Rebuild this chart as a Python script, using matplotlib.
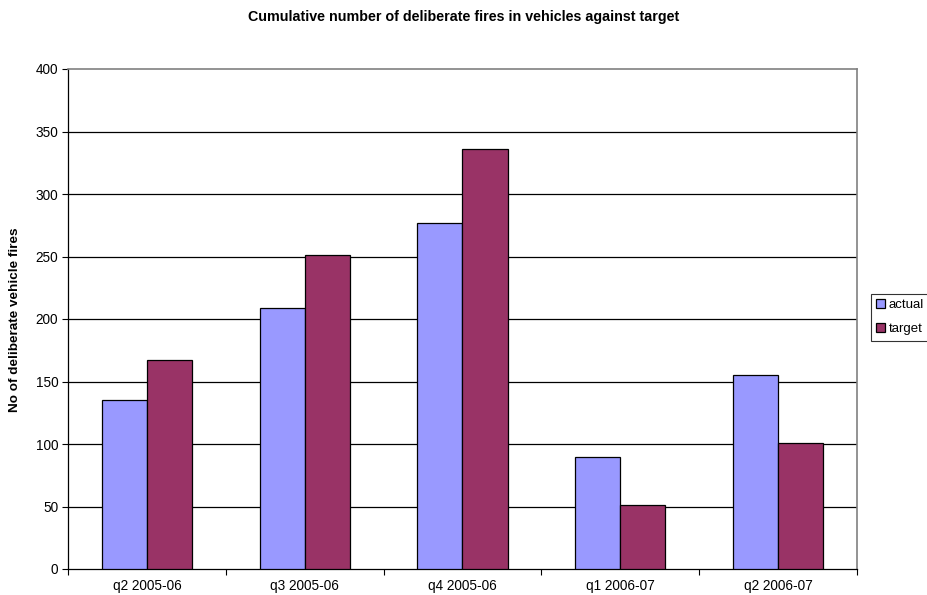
import matplotlib.pyplot as plt
import numpy as np

# quarterly data
quarters = ['q2 2005-06', 'q3 2005-06', 'q4 2005-06', 'q1 2006-07', 'q2 2006-07']
actual = [135, 209, 277, 90, 155]
target = [167, 251, 336, 51, 101]

plt.rcParams['font.family'] = ['Liberation Sans', 'DejaVu Sans']

fig = plt.figure(figsize=(9.28, 5.95), dpi=100)
ax = fig.add_axes([68/928, 1-569/595, (857-68)/928, 500/595])

x = np.arange(len(quarters))
w = 1/3.5
ax.bar(x - w/2, actual, w, color='#9999FF', edgecolor='black', linewidth=0.9, label='actual', zorder=3)
ax.bar(x + w/2, target, w, color='#993366', edgecolor='black', linewidth=0.9, label='target', zorder=3)

ax.set_xlim(-0.5, len(quarters) - 0.5)
ax.set_ylim(0, 400)
ax.set_yticks(range(0, 401, 50))
ax.set_xticks(x)
ax.set_xticklabels(quarters)
ax.set_xticks(np.arange(-0.5, len(quarters)), minor=True)
ax.tick_params(axis='x', which='major', length=0, pad=7, labelsize=9.8)
ax.tick_params(axis='x', which='minor', length=4, width=0.8, direction='out')
ax.tick_params(axis='y', length=4, width=0.8, labelsize=9.8, pad=3)

for yv in range(50, 400, 50):
    ax.axhline(yv, color='black', linewidth=0.9, zorder=1)

ax.spines['top'].set_color('#808080')
ax.spines['right'].set_color('#808080')
ax.spines['top'].set_linewidth(1.2)
ax.spines['right'].set_linewidth(1.2)
ax.spines['left'].set_linewidth(0.9)
ax.spines['bottom'].set_linewidth(0.9)

narrow = ['Liberation Sans Narrow', 'Liberation Sans', 'DejaVu Sans']
fig.text(0.5, 1-17/595, 'Cumulative number of deliberate fires in vehicles against target',
         ha='center', va='center', fontsize=10.3, fontweight='bold')
fig.text(15/928, 1-320/595, 'No of deliberate vehicle fires', rotation=90,
         ha='center', va='center', fontsize=9.7, fontweight='bold', family=narrow)

leg = fig.legend(loc='upper left', bbox_to_anchor=(871/928, 1-294/595), fontsize=9.5,
                 frameon=True, fancybox=False, edgecolor='black', handlelength=0.65,
                 handleheight=0.65, handletextpad=0.3, borderpad=0.4, labelspacing=0.9,
                 borderaxespad=0)
leg.get_frame().set_linewidth(0.8)

fig.savefig('out.png', dpi=100)
